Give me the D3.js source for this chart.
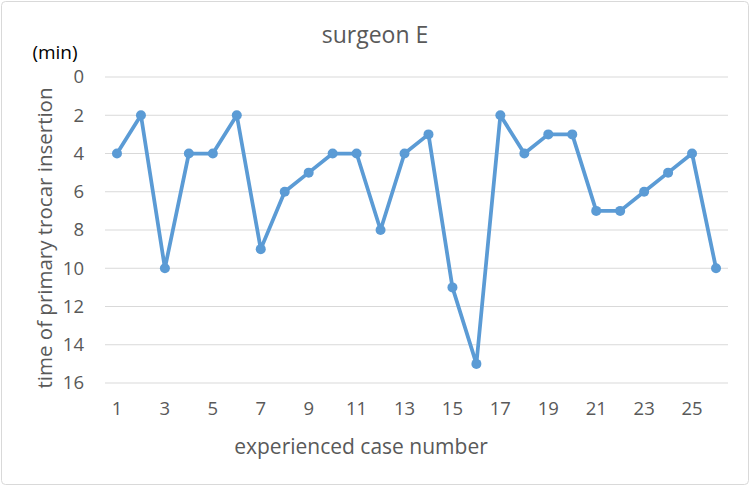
<!DOCTYPE html>
<html>
<head>
<meta charset="utf-8">
<script src="https://cdn.jsdelivr.net/npm/d3@7"></script>
<style>
  body { margin: 0; background: #fff; }
  text { font-family: "Open Sans", "Noto Sans", sans-serif; }
</style>
</head>
<body>
<div id="draw"></div>
<script>
var caseNumbers = d3.range(1, 27);
var insertTimes = [4, 2, 10, 4, 4, 2, 9, 6, 5, 4, 4, 8, 4, 3, 11, 15, 2, 4, 3, 3, 7, 7, 6, 5, 4, 10];
var yTicks = [0, 2, 4, 6, 8, 10, 12, 14, 16];
var xTickLabels = caseNumbers.filter(function (d) { return d % 2 === 1; });

var W = 750, H = 486;
var margin = { top: 77, right: 22, bottom: 103, left: 105 },
	width = W - margin.left - margin.right,
	height = H - margin.top - margin.bottom;

var root = d3.select('#draw').append('svg').attr('width', W).attr('height', H);

root.append('rect')
	.attr('x', 1.5).attr('y', 1.5)
	.attr('width', W - 3).attr('height', H - 3)
	.attr('rx', 4)
	.style('fill', '#fff')
	.style('stroke', '#d9d9d9');

var svg = root.append('g')
	.attr('transform', 'translate(' + margin.left + ',' + margin.top + ')');

var x = d3.scaleBand().domain(caseNumbers).range([0, width]);
var y = d3.scaleLinear().domain([0, 16]).range([0, height]);

// gridlines
svg.selectAll('.grid')
	.data(yTicks)
	.enter()
	.append('line')
	.attr('x1', 0).attr('x2', width)
	.attr('y1', function (d) { return y(d); })
	.attr('y2', function (d) { return y(d); })
	.style('stroke', '#d9d9d9')
	.style('stroke-width', 1);

// y axis labels
var yAxis = d3.axisLeft(y).tickValues(yTicks).tickSize(0).tickPadding(21);
svg.append('g').call(yAxis)
	.call(function (g) { g.select('.domain').remove(); })
	.selectAll('text')
	.style('font-size', '18.5px')
	.style('fill', '#595959');

// x axis labels
var xAxis = d3.axisBottom(x).tickValues(xTickLabels).tickSize(0).tickPadding(19);
svg.append('g')
	.attr('transform', 'translate(0,' + height + ')')
	.call(xAxis)
	.call(function (g) { g.select('.domain').remove(); })
	.selectAll('text')
	.style('font-size', '18.5px')
	.style('fill', '#595959');

var line = d3.line()
	.x(function (d, i) { return x(caseNumbers[i]) + x.bandwidth() / 2; })
	.y(function (d) { return y(d); });

svg.append('path')
	.datum(insertTimes)
	.attr('d', line)
	.style('fill', 'none')
	.style('stroke', '#5b9bd5')
	.style('stroke-width', 3.75)
	.style('stroke-linejoin', 'round');

svg.selectAll('.pt')
	.data(insertTimes)
	.enter()
	.append('circle')
	.attr('cx', function (d, i) { return x(caseNumbers[i]) + x.bandwidth() / 2; })
	.attr('cy', function (d) { return y(d); })
	.attr('r', 5)
	.style('fill', '#5b9bd5');

// titles
root.append('text')
	.attr('x', 375).attr('y', 43)
	.attr('text-anchor', 'middle')
	.style('font-size', '23px')
	.style('fill', '#595959')
	.text('surgeon E');

root.append('text')
	.attr('x', 55).attr('y', 59)
	.attr('text-anchor', 'middle')
	.style('font-size', '19px')
	.style('fill', '#000')
	.text('(min)');

root.append('text')
	.attr('x', 361).attr('y', 454)
	.attr('text-anchor', 'middle')
	.style('font-size', '21px')
	.style('fill', '#595959')
	.text('experienced case number');

root.append('text')
	.attr('transform', 'translate(52,' + (margin.top + height / 2 + 8) + ') rotate(-90)')
	.attr('text-anchor', 'middle')
	.style('font-size', '20.5px')
	.style('fill', '#595959')
	.text('time of primary trocar insertion');
</script>
</body>
</html>
